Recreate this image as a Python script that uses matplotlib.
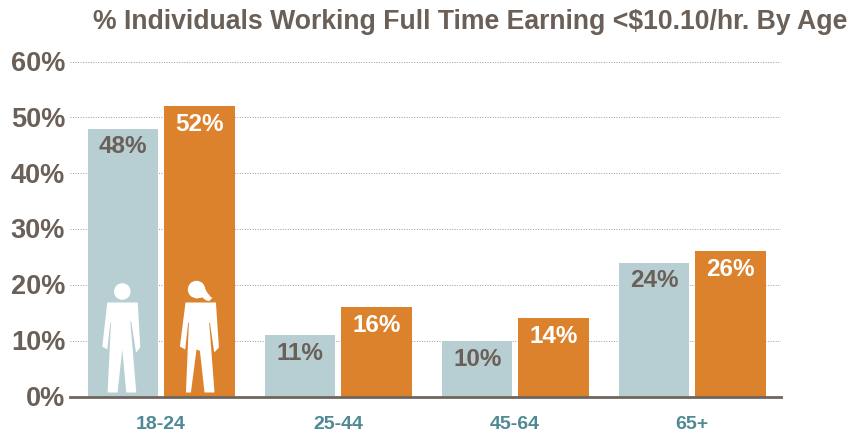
import numpy as np
import matplotlib
matplotlib.use('Agg')
import matplotlib.pyplot as plt
from matplotlib.patches import Polygon, Circle
from matplotlib.transforms import Affine2D, ScaledTranslation

ages = ['18-24', '25-44', '45-64', '65+']
men = [48, 11, 10, 24]
women = [52, 16, 14, 26]
yticks = [0, 10, 20, 30, 40, 50, 60]
title = '% Individuals Working Full Time Earning <$10.10/hr. By Age'

W, H = 856, 439
BLUE = '#b7ced3'
ORANGE = '#dc812c'
GREY = '#6b6058'
TEAL = '#4f8a94'

plt.rcParams['font.family'] = ['Liberation Sans', 'DejaVu Sans']

fig = plt.figure(figsize=(W / 100, H / 100), dpi=100)
# 축 위치는 픽셀 기준
ax = fig.add_axes([70 / W, 1 - 397.5 / H, 711 / W, 335 / H])

x = np.arange(len(ages))
men_offset = 0.213
women_offset = 0.216
ax.bar(x - men_offset, men, 0.396, color=BLUE, zorder=2)
ax.bar(x + women_offset, women, 0.4, color=ORANGE, zorder=2)

ax.set_xlim(-0.514, 3.503)
ax.set_ylim(0, 60)

ax.set_yticks(yticks)
ax.set_yticklabels([f'{v}%' for v in yticks], fontsize=19.5, fontweight='bold', color=GREY)
ax.set_xticks(x)
ax.set_xticklabels(ages, fontsize=14, fontweight='bold', color=TEAL)
ax.tick_params(axis='y', length=0, pad=3.5)
ax.tick_params(axis='x', length=0, pad=13.5)

# y축 라벨을 조금 위로
for label in ax.get_yticklabels():
    label.set_transform(label.get_transform() + ScaledTranslation(0, 1.5 / 100, fig.dpi_scale_trans))

ax.grid(axis='y', linestyle=(0, (1, 1.6)), color='#999995', linewidth=0.7, zorder=1)
ax.set_axisbelow(True)
for side in ['top', 'left', 'right']:
    ax.spines[side].set_visible(False)
ax.spines['bottom'].set_color('#6f655d')
ax.spines['bottom'].set_linewidth(2)
ax.spines['bottom'].set_zorder(3)

# 막대 값 표시
for i in x:
    ax.annotate(f'{men[i]}%', (i - men_offset, men[i]), xytext=(0, -12.5), textcoords='offset points',
                ha='center', va='center', fontsize=17.5, fontweight='bold', color=GREY, zorder=4)
    ax.annotate(f'{women[i]}%', (i + women_offset, women[i]), xytext=(0, -12.5), textcoords='offset points',
                ha='center', va='center', fontsize=17.5, fontweight='bold', color='white', zorder=4)

fig.text(470.5 / W, 1 - 22 / H, title, ha='center', va='center', fontsize=19.15,
         fontweight='bold', color=GREY)

# 사람 아이콘 (막대 중심, 기준선에서의 픽셀 거리)
man_body = [(-16, 94), (14.5, 94), (17, 49), (12.7, 44), (8, 75), (7, 75), (13, 4), (3, 4),
            (-1, 47), (-5.7, 4), (-15.7, 4), (-12.3, 74), (-13, 74), (-16, 47), (-21, 50)]
woman_body = [(-13.7, 94), (16.7, 94), (19.7, 49), (15, 44), (10.7, 74), (10, 74), (15.3, 4), (5.3, 4),
              (0.7, 45.7), (-2.7, 47), (-8.3, 4), (-13.3, 4), (-10.3, 74), (-11, 74), (-14, 47), (-19.3, 50)]
woman_hair = [(-3, 115), (3, 113), (8, 104), (12, 99), (13.5, 99), (10, 95.5), (7, 96), (3, 99), (-3, 98)]


def pixel_transform(bar_x):
    px, py = ax.transData.transform((bar_x, 0))
    return Affine2D().translate(px, py)


t = pixel_transform(x[0] - men_offset)
ax.add_patch(Polygon(man_body, closed=True, fc='white', ec='none', transform=t, zorder=3))
ax.add_patch(Circle((-1, 105), 8.3, fc='white', ec='none', transform=t, zorder=3))

t = pixel_transform(x[0] + women_offset)
ax.add_patch(Polygon(woman_body, closed=True, fc='white', ec='none', transform=t, zorder=3))
ax.add_patch(Circle((-2.7, 107), 8.7, fc='white', ec='none', transform=t, zorder=3))
ax.add_patch(Polygon(woman_hair, closed=True, fc='white', ec='none', transform=t, zorder=3))

fig.savefig('out.png', dpi=100, facecolor='white')
